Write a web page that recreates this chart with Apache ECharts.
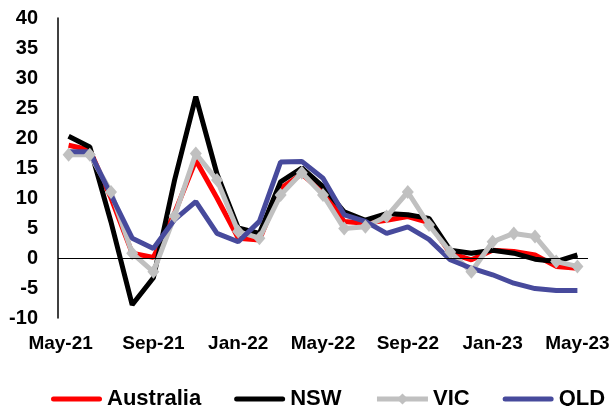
<!DOCTYPE html>
<html>
<head>
<meta charset="utf-8">
<style>
  html, body { margin: 0; padding: 0; background: #fff; }
  #chart { width: 616px; height: 406px; }
</style>
<script src="https://cdn.jsdelivr.net/npm/echarts@6/dist/echarts.min.js"></script>
</head>
<body>
<div id="chart"></div>
<script>
// Monthly categories, May-21 to May-23
const months = [
  'May-21', 'Jun-21', 'Jul-21', 'Aug-21', 'Sep-21', 'Oct-21', 'Nov-21', 'Dec-21',
  'Jan-22', 'Feb-22', 'Mar-22', 'Apr-22', 'May-22', 'Jun-22', 'Jul-22', 'Aug-22',
  'Sep-22', 'Oct-22', 'Nov-22', 'Dec-22', 'Jan-23', 'Feb-23', 'Mar-23', 'Apr-23', 'May-23'
];

const australia = [18.8, 18.0, 10.0, 0.8, 0.1, 7.5, 16.3, 10.0, 3.3, 3.0, 11.6, 14.0, 11.0,
  6.1, 5.8, 6.3, 6.9, 5.9, 0.8, -0.3, 1.3, 1.1, 0.5, -1.4, -1.7];
const nsw = [20.3, 18.5, 6.0, -7.8, -3.3, 13.0, 26.9, 14.0, 5.0, 4.1, 12.7, 15.0, 11.9,
  7.7, 6.3, 7.4, 7.2, 6.6, 1.3, 0.8, 1.3, 0.8, -0.2, -0.6, 0.5];
const vic = [17.2, 17.2, 11.0, 0.8, -2.3, 7.0, 17.4, 13.0, 4.4, 3.3, 10.5, 14.2, 10.5,
  4.9, 5.2, 6.9, 11.0, 5.5, 1.0, -2.3, 2.7, 4.1, 3.6, -0.6, -1.4];
const qld = [17.7, 17.7, 10.5, 3.3, 1.6, 6.4, 9.4, 4.1, 2.7, 6.1, 16.0, 16.1, 13.3,
  7.2, 6.1, 4.1, 5.2, 3.1, -0.3, -1.7, -2.8, -4.2, -5.1, -5.4, -5.4];

const yMin = -10, yMax = 40, yStep = 5;

const FONT = "'Liberation Sans', Arial, sans-serif";

// rounded stroke used as the legend key for the marker-less series
const LINE_ICON = 'path://M2.5,0 L48.5,0 A2.5,2.5 0 0 1 48.5,5 L2.5,5 A2.5,2.5 0 0 1 2.5,0 Z';

const chart = echarts.init(document.getElementById('chart'), null, { renderer: 'canvas' });

function lineSeries(name, data, color, extra) {
  return Object.assign({
    name: name,
    type: 'line',
    data: data,
    symbol: 'none',
    lineStyle: { color: color, width: 5 },
    itemStyle: { color: color },
    animation: false
  }, extra || {});
}

chart.setOption({
  animation: false,
  backgroundColor: '#fff',
  grid: { left: 58, right: 28, top: 18, bottom: 88, containLabel: false },
  xAxis: {
    type: 'category',
    data: months,
    boundaryGap: true,
    axisLine: { show: false, onZero: false },
    axisTick: { show: false },
    splitLine: { show: false },
    axisLabel: {
      interval: 3,
      margin: 16,
      color: '#000',
      fontFamily: FONT,
      fontWeight: 'bold',
      fontSize: 19,
      formatter: function (value, index) {
        return index === 0 ? '{first|' + value + '}' : value;
      },
      rich: {
        first: {
          color: '#000',
          fontFamily: FONT,
          fontWeight: 'bold',
          fontSize: 19,
          padding: [0, 16, 0, 0]
        }
      }
    }
  },
  yAxis: {
    type: 'value',
    min: yMin,
    max: yMax,
    interval: yStep,
    axisLine: { show: true, lineStyle: { color: '#000', width: 1.5 } },
    axisTick: { show: false },
    splitLine: { show: false },
    axisLabel: {
      margin: 20,
      color: '#000',
      fontFamily: FONT,
      fontWeight: 'bold',
      fontSize: 20
    }
  },
  legend: {
    left: 46,
    top: 383,
    itemWidth: 51,
    itemHeight: 14,
    itemGap: 33,
    textStyle: { color: '#000', fontFamily: FONT, fontWeight: 'bold', fontSize: 22 },
    data: [
      { name: 'Australia', icon: LINE_ICON },
      { name: 'NSW', icon: LINE_ICON },
      { name: 'VIC', lineStyle: { width: 5 }, itemStyle: { borderWidth: 0 } },
      { name: 'QLD', icon: LINE_ICON }
    ]
  },
  series: [
    lineSeries('Australia', australia, '#FF0000', {
      markLine: {
        silent: true,
        symbol: ['none', 'none'],
        label: { show: false },
        lineStyle: { color: '#000', width: 1.2, type: 'solid' },
        data: [{ yAxis: 0 }],
        animation: false
      }
    }),
    lineSeries('NSW', nsw, '#000000'),
    lineSeries('VIC', vic, '#C0C0C0', {
      symbol: 'diamond',
      symbolSize: [12, 14],
      showSymbol: true
    }),
    lineSeries('QLD', qld, '#474A9C')
  ]
});
</script>
</body>
</html>
